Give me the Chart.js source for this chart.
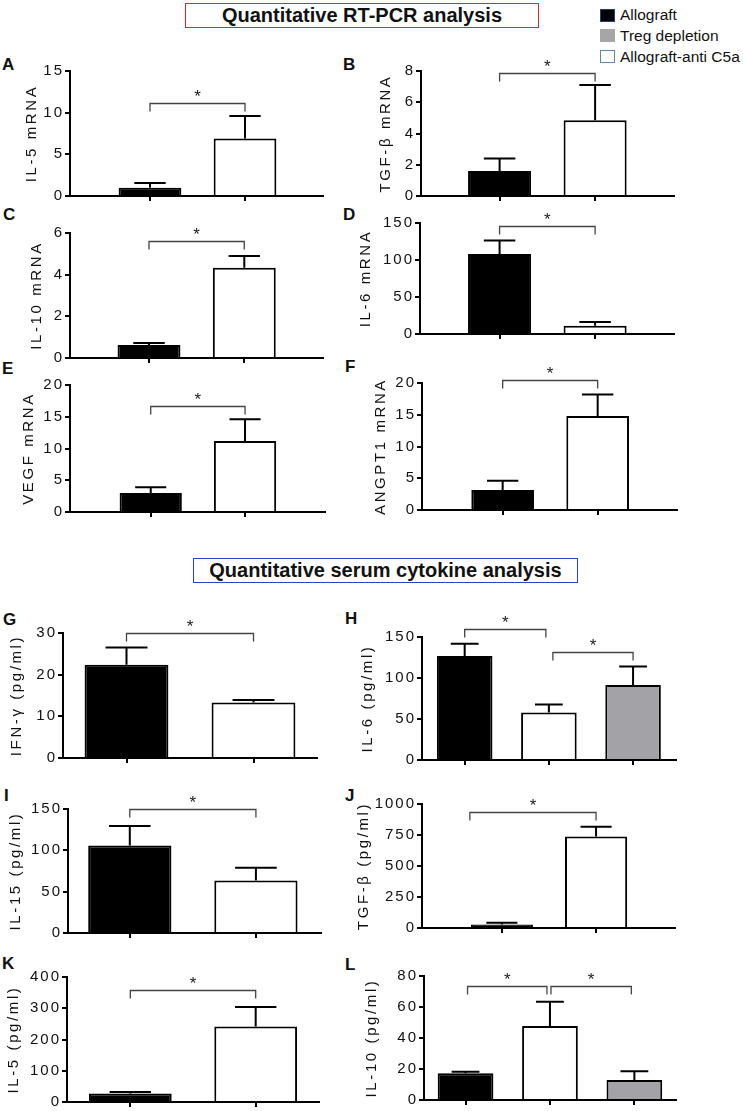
<!DOCTYPE html>
<html><head><meta charset="utf-8">
<script src="https://cdn.jsdelivr.net/npm/chart.js@4.4.1/dist/chart.umd.min.js"></script>
<style>
html,body{margin:0;padding:0;background:#fff;}
body{width:743px;height:1111px;position:relative;overflow:hidden;font-family:"Liberation Sans",Arial,sans-serif;color:#111;}
.abs{position:absolute;white-space:nowrap;}
.lbl{font-weight:bold;font-size:17px;line-height:17px;color:#111;}
.hdr{position:absolute;box-sizing:border-box;text-align:center;font-weight:bold;font-size:20px;color:#111;white-space:nowrap;}
.leg{font-size:15.5px;line-height:15.5px;color:#111;}
.sq{position:absolute;box-sizing:border-box;width:15px;height:13px;}
canvas{position:absolute;}
</style></head><body>
<script>
// ---------------- DATA ----------------
const sectionTitles = ['Quantitative RT-PCR analysis', 'Quantitative serum cytokine analysis'];
const legendLabels = ['Allograft', 'Treg depletion', 'Allograft-anti C5a'];
const panelLetters = ['A','B','C','D','E','F','G','H','I','J','K','L'];
const yTitles = ['IL-5 mRNA','TGF-\u03b2 mRNA','IL-10 mRNA','IL-6 mRNA','VEGF mRNA','ANGPT1 mRNA',
  'IFN-\u03b3 (pg/ml)','IL-6 (pg/ml)','IL-15 (pg/ml)','TGF-\u03b2 (pg/ml)','IL-5 (pg/ml)','IL-10 (pg/ml)'];
// bar order per panel: Allograft, Allograft-anti C5a, (Treg depletion)
const yTicks = [[0,5,10,15],[0,2,4,6,8],[0,2,4,6],[0,50,100,150],[0,5,10,15,20],[0,5,10,15,20],
  [0,10,20,30],[0,50,100,150],[0,50,100,150],[0,250,500,750,1000],[0,100,200,300,400],[0,20,40,60,80]];
const means = [[1.0,6.9],[1.6,4.85],[0.62,4.33],[108,11.3],[3.0,11.2],[3.16,14.8],
  [22.4,13.3],[126.9,58,91.6],[105.7,63.5],[28,737],[27,242],[17.2,47.7,12.9]];
const sems = [[0.56,2.7],[0.8,2.25],[0.1,0.57],[18.4,5],[0.9,3.4],[1.44,3.4],
  [4.1,0.6],[15,9.8,22.4],[23.7,15.5],[14,80],[5,62],[1.1,15.7,5.6]];
// significance brackets: [from bar, to bar, bracket level]
const sig = [[[0,1,11.2]],[[0,1,7.9]],[[0,1,5.62]],[[0,1,146.5]],[[0,1,16.7]],[[0,1,20.5]],
  [[0,1,30]],[[0,1,160],[1,2,131.8]],[[0,1,150]],[[0,1,938]],[[0,1,357]],[[0,1,73.5],[1,2,73.5]]];

// ---------------- LAYOUT / STYLE ----------------
const FONT = '"Liberation Sans", Arial, sans-serif';
const barColors = ['#000000', '#ffffff', '#a3a3a7'];
const legendSwatch = [{bg:'#000', bd:'#23407a'}, {bg:'#a6a6a6', bd:'#a6a6a6'}, {bg:'#fff', bd:'#5a86bf'}];
const geo = [
 {ax:70, top:71, zero:196, right:323, xmin:-0.842, xmax:1.821, tOff:38, lx:2, ly:64},
 {ax:421, top:71, zero:196, right:674, xmin:-0.823, xmax:1.826, tOff:35, lx:343, ly:64},
 {ax:70, top:233, zero:358, right:323, xmin:-0.829, xmax:1.826, tOff:33, lx:3, ly:214},
 {ax:420, top:223, zero:334, right:674, xmin:-0.833, xmax:1.826, tOff:54, lx:343, ly:214},
 {ax:70, top:385, zero:512, right:325, xmin:-0.856, xmax:1.848, tOff:41, lx:2, ly:368},
 {ax:422, top:383, zero:510, right:677, xmin:-0.849, xmax:1.835, tOff:41, lx:345, ly:366},
 {ax:63, top:633, zero:758, right:317, xmin:-0.5, xmax:1.5, tOff:46, lx:3, ly:619},
 {ax:422, top:637, zero:760, right:676, xmin:-0.507, xmax:2.51, tOff:54, lx:345, ly:618},
 {ax:68, top:809, zero:933, right:321, xmin:-0.49, xmax:1.516, tOff:52, lx:4, ly:795},
 {ax:422, top:804, zero:928, right:675, xmin:-0.848, xmax:1.838, tOff:58, lx:345, ly:795},
 {ax:67, top:977, zero:1102, right:319, xmin:-0.505, xmax:1.505, tOff:53, lx:2, ly:963},
 {ax:424, top:976, zero:1100, right:676, xmin:-0.492, xmax:2.493, tOff:52, lx:345, ly:964}
];
const brDx = {7:[[0,-3],[4,0]], 9:[[-32,0]], 11:[[2,-3],[1,-3]]};
const WY = 74, PT = 40, XH = 12, PR = 6;
const TICK_FS = 15, TITLE_FS = 15;

function addDiv(cls, text, left, top, style) {
  const d = document.createElement('div');
  d.className = cls; d.textContent = text;
  d.style.left = left + 'px'; d.style.top = top + 'px';
  if (style) Object.assign(d.style, style);
  document.body.appendChild(d); return d;
}
addDiv('hdr', sectionTitles[0], 185, 3, {width:'354px', height:'25px', lineHeight:'22px', border:'1.5px solid #d8282e'});
addDiv('hdr', sectionTitles[1], 193, 558, {width:'385px', height:'25px', lineHeight:'22px', border:'1.5px solid #2a3fe0'});
const legY = [15, 35.3, 56.5];
legendLabels.forEach((t, i) => {
  const s = document.createElement('div'); s.className = 'sq';
  s.style.left = '600px'; s.style.top = (legY[i] - 6.5) + 'px';
  s.style.background = legendSwatch[i].bg; s.style.border = '1.5px solid ' + legendSwatch[i].bd;
  document.body.appendChild(s);
  addDiv('abs leg', t, 620, legY[i] - 7.75);
});
panelLetters.forEach((t, i) => addDiv('abs lbl', t, geo[i].lx, geo[i].ly - 8.5));

const spacing = {
  id: 'spacing',
  beforeDraw(chart) {
    chart.ctx.letterSpacing = '2px';
    const ys = chart.scales.y;
    if (!ys._lsPatched) {
      const o = ys.drawTitle;
      ys.drawTitle = function () { const c = this.ctx; const prev = c.letterSpacing; c.letterSpacing = '2.6px'; o.call(this); c.letterSpacing = prev; };
      ys._lsPatched = true;
    }
  }
};
const annot = {
  id: 'annot',
  afterDatasetsDraw(chart, args, opts) {
    const p = opts.panel;
    const {ctx} = chart; const x = chart.scales.x, y = chart.scales.y;
    const meta = chart.getDatasetMeta(0);
    ctx.save();
    ctx.letterSpacing = '0px';
    ctx.strokeStyle = '#000'; ctx.lineWidth = 2;
    means[p].forEach((m, i) => {
      const bw = meta.data[i].width;
      const cx = x.getPixelForValue(i);
      const y0 = y.getPixelForValue(m), y1 = y.getPixelForValue(m + sems[p][i]);
      const hw = bw / 4;
      ctx.beginPath();
      ctx.moveTo(cx, y0); ctx.lineTo(cx, y1);
      ctx.moveTo(cx - hw, y1); ctx.lineTo(cx + hw, y1);
      ctx.stroke();
    });
    sig[p].forEach((s, k) => {
      const dx = (brDx[p] && brDx[p][k]) || [0, 0];
      const x1 = x.getPixelForValue(s[0]) + dx[0], x2 = x.getPixelForValue(s[1]) + dx[1];
      const yb = Math.round(y.getPixelForValue(s[2])) + 0.5;
      ctx.strokeStyle = '#444'; ctx.lineWidth = 1.3;
      ctx.beginPath();
      ctx.moveTo(x1, yb + 8); ctx.lineTo(x1, yb); ctx.lineTo(x2, yb); ctx.lineTo(x2, yb + 8);
      ctx.stroke();
      ctx.fillStyle = '#1a1a1a'; ctx.font = '17px ' + FONT; ctx.textAlign = 'center'; ctx.textBaseline = 'alphabetic';
      ctx.fillText('*', (x1 + x2) / 2, yb - 1.8);
    });
    ctx.restore();
  }
};

geo.forEach((g, p) => {
  const c = document.createElement('canvas');
  const W = g.right - g.ax + WY + PR;
  const H = PT + (g.zero - g.top) + XH;
  c.width = W; c.height = H;
  c.style.left = (g.ax - WY) + 'px'; c.style.top = (g.top - PT) + 'px';
  c.style.width = W + 'px'; c.style.height = H + 'px';
  document.body.appendChild(c);
  const tk = yTicks[p];
  new Chart(c, {
    type: 'bar',
    data: { datasets: [{
      data: means[p].map((v, i) => ({x: i, y: v})),
      backgroundColor: means[p].map((_, i) => barColors[i]),
      borderColor: '#000', borderWidth: 2, borderSkipped: 'start',
      barPercentage: 0.66, categoryPercentage: 1
    }]},
    options: {
      responsive: false, animation: false, devicePixelRatio: 1,
      layout: { padding: { top: PT, left: 0, right: PR, bottom: 0 } },
      plugins: { legend: { display: false }, tooltip: { enabled: false }, annot: { panel: p } },
      scales: {
        x: {
          type: 'linear', min: g.xmin, max: g.xmax, offset: false,
          afterBuildTicks: s => { s.ticks = means[p].map((_, i) => ({value: i})); },
          afterFit: s => { s.height = XH; },
          ticks: { callback: () => '', autoSkip: false },
          grid: { drawOnChartArea: false, drawTicks: true, tickLength: 5, color: '#000', lineWidth: 2, offset: false },
          border: { display: true, color: '#000', width: 2 }
        },
        y: {
          min: 0, max: tk[tk.length - 1],
          afterBuildTicks: s => { s.ticks = tk.map(v => ({value: v})); },
          afterFit: s => { s.width = WY; },
          ticks: { color: '#111', font: { family: FONT, size: TICK_FS }, padding: 1, autoSkip: false, callback: v => String(v) },
          grid: { drawOnChartArea: false, drawTicks: true, tickLength: 5, color: '#000', lineWidth: 2 },
          border: { display: true, color: '#000', width: 2 },
          title: { display: true, text: yTitles[p], color: '#111', font: { family: FONT, size: TITLE_FS, lineHeight: 1.2 },
                   padding: { top: WY - g.tOff - TITLE_FS * 0.6, bottom: 0 } }
        }
      }
    },
    plugins: [spacing, annot]
  });
});
</script>
</body></html>
